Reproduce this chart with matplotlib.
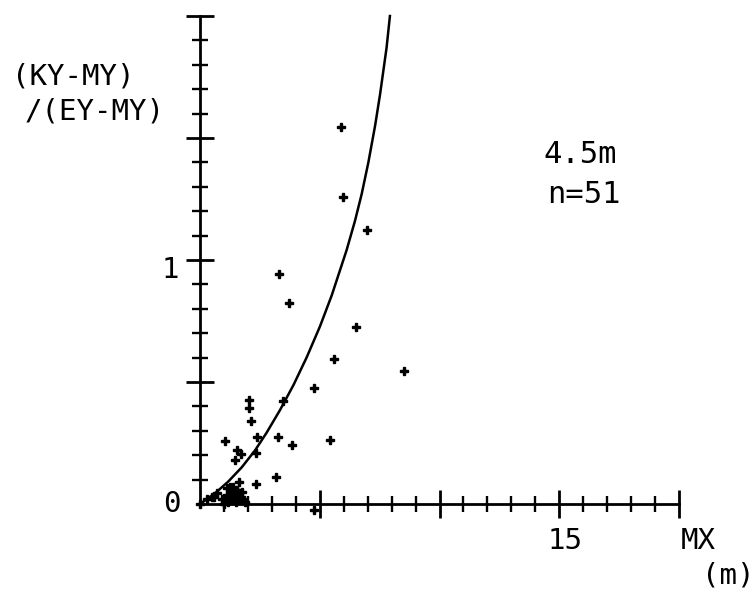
#Importing Libraries
import numpy as np
import matplotlib
matplotlib.use('Agg')
import matplotlib.pyplot as plt

#Data
# scatter points (MX, (KY-MY)/(EY-MY))
pts_x = [5.87, 5.97, 6.99, 3.30, 3.72, 6.51, 5.61, 8.52, 4.75, 3.45,
         2.03, 2.03, 2.13, 1.04, 2.38, 3.24, 3.85, 5.44, 2.35, 1.56,
         1.70, 1.46, 3.16, 1.64, 2.35, 0.70, 4.75, 0.00,
         1.11, 1.25, 1.39, 1.53, 1.63, 1.71, 1.81, 1.11, 1.07, 1.18,
         1.88, 1.46, 0.30, 0.50, 1.30, 1.60, 1.20, 1.75, 0.90, 1.50,
         1.00, 1.35, 0.60]
pts_y = [1.545, 1.258, 1.122, 0.941, 0.822, 0.727, 0.596, 0.546, 0.474, 0.423,
         0.426, 0.395, 0.342, 0.260, 0.273, 0.273, 0.240, 0.261, 0.210, 0.221,
         0.205, 0.180, 0.110, 0.091, 0.083, 0.046, -0.025, 0.000,
         0.064, 0.071, 0.071, 0.057, 0.044, 0.030, 0.016, 0.037, 0.016, 0.009,
         0.009, 0.037, 0.020, 0.030, 0.050, 0.020, 0.030, 0.050, 0.020, 0.010,
         0.000, 0.015, 0.030]

# fitted curve, traced points
curve_x = [0.00, 0.63, 1.18, 1.74, 2.30, 2.78, 3.34, 3.90, 4.45, 5.01,
           5.50, 6.12, 6.47, 6.75, 7.03, 7.31, 7.52, 7.79, 7.93]
curve_y = [0.000, 0.044, 0.092, 0.150, 0.220, 0.292, 0.385, 0.487, 0.600, 0.728,
           0.855, 1.040, 1.160, 1.270, 1.400, 1.550, 1.680, 1.870, 2.000]

x_major = [5, 10, 15, 20]
x_minor = list(range(1, 20))
y_major = [0.5, 1.0, 1.5, 2.0]
y_minor = [i / 10 for i in range(1, 20)]

font = 'DejaVu Sans Mono'
fs = 21

fig = plt.figure(figsize=(7.54, 5.97), dpi=100)
ax = fig.add_axes([200/754, 93/597, 479/754, 488/597])

ax.plot(curve_x, curve_y, color='black', lw=1.8, clip_on=False)
ax.plot(pts_x, pts_y, linestyle='none', marker='P', markersize=6,
        color='black', clip_on=False)

ax.set_xlim(0, 20)
ax.set_ylim(0, 2)
for s in ['top', 'right']:
    ax.spines[s].set_visible(False)
for s in ['left', 'bottom']:
    ax.spines[s].set_linewidth(2.0)

ax.set_xticks(x_major)
ax.set_xticks(x_minor, minor=True)
ax.set_yticks(y_major)
ax.set_yticks(y_minor, minor=True)
ax.tick_params(which='major', direction='inout', length=20, width=2.0,
               labelbottom=False, labelleft=False)
ax.tick_params(which='minor', direction='inout', length=12, width=1.7)

# labels, placed as text like the plotter did
ax.text(-1.17, 0.0, '0', fontsize=fs, family=font, ha='center', va='center')
ax.text(-1.25, 0.96, '1', fontsize=fs, family=font, ha='center', va='center')
ax.text(15.24, -0.152, '15', fontsize=fs, family=font, ha='center', va='center')
ax.text(20.8, -0.152, 'MX', fontsize=fs, family=font, ha='center', va='center')
ax.text(22.05, -0.295, '(m)', fontsize=fs, family=font, ha='center', va='center')
ax.text(-7.85, 1.75, '(KY-MY)', fontsize=fs, family=font, ha='left', va='center')
ax.text(-7.31, 1.607, '/(EY-MY)', fontsize=fs, family=font, ha='left', va='center')
ax.text(14.32, 1.434, '4.5m', fontsize=22, family=font, ha='left', va='center')
ax.text(14.49, 1.27, 'n=51', fontsize=22, family=font, ha='left', va='center')

fig.savefig('out.png', dpi=100)
